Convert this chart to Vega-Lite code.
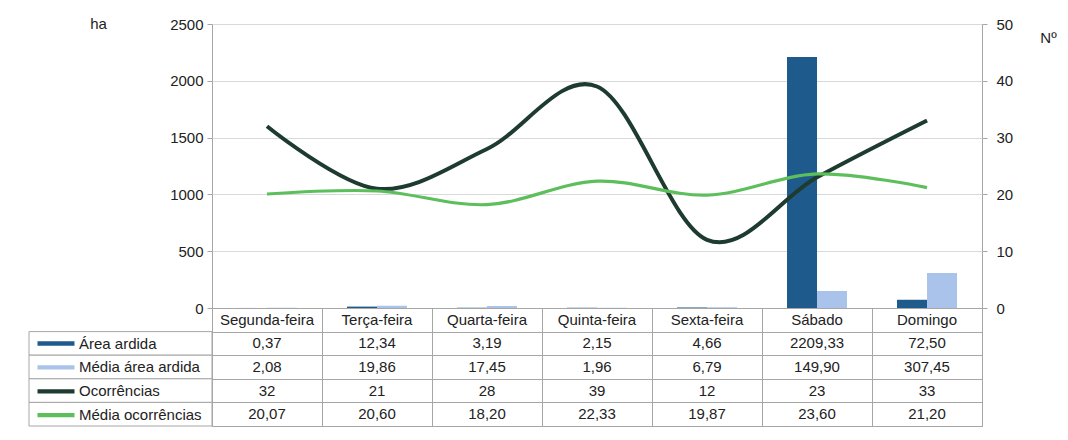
{
  "$schema": "https://vega.github.io/schema/vega-lite/v6.json",
  "autosize": {"type": "pad"},
  "padding": {"left": 28, "top": 15, "right": 5, "bottom": 5},
  "background": "white",
  "config": {
    "font": "Liberation Sans",
    "locale": {"number": {"decimal": ",", "thousands": "", "grouping": [3], "currency": ["", " €"]}},
    "view": {"stroke": "#a6a6a6", "strokeWidth": 1},
    "axis": {"labelFont": "Liberation Sans", "labelFontSize": 15, "labelColor": "#222222", "titleFont": "Liberation Sans", "titleFontSize": 15, "titleFontWeight": "normal", "titleColor": "#222222"}
  },
  "datasets": {
    "d": [
      {"dia": "Segunda-feira", "serie": "Área ardida", "valor": 0.37},
      {"dia": "Terça-feira", "serie": "Área ardida", "valor": 12.34},
      {"dia": "Quarta-feira", "serie": "Área ardida", "valor": 3.19},
      {"dia": "Quinta-feira", "serie": "Área ardida", "valor": 2.15},
      {"dia": "Sexta-feira", "serie": "Área ardida", "valor": 4.66},
      {"dia": "Sábado", "serie": "Área ardida", "valor": 2209.33},
      {"dia": "Domingo", "serie": "Área ardida", "valor": 72.50},
      {"dia": "Segunda-feira", "serie": "Média área ardida", "valor": 2.08},
      {"dia": "Terça-feira", "serie": "Média área ardida", "valor": 19.86},
      {"dia": "Quarta-feira", "serie": "Média área ardida", "valor": 17.45},
      {"dia": "Quinta-feira", "serie": "Média área ardida", "valor": 1.96},
      {"dia": "Sexta-feira", "serie": "Média área ardida", "valor": 6.79},
      {"dia": "Sábado", "serie": "Média área ardida", "valor": 149.90},
      {"dia": "Domingo", "serie": "Média área ardida", "valor": 307.45},
      {"dia": "Segunda-feira", "serie": "Ocorrências", "valor": 32},
      {"dia": "Terça-feira", "serie": "Ocorrências", "valor": 21},
      {"dia": "Quarta-feira", "serie": "Ocorrências", "valor": 28},
      {"dia": "Quinta-feira", "serie": "Ocorrências", "valor": 39},
      {"dia": "Sexta-feira", "serie": "Ocorrências", "valor": 12},
      {"dia": "Sábado", "serie": "Ocorrências", "valor": 23},
      {"dia": "Domingo", "serie": "Ocorrências", "valor": 33},
      {"dia": "Segunda-feira", "serie": "Média ocorrências", "valor": 20.07},
      {"dia": "Terça-feira", "serie": "Média ocorrências", "valor": 20.60},
      {"dia": "Quarta-feira", "serie": "Média ocorrências", "valor": 18.20},
      {"dia": "Quinta-feira", "serie": "Média ocorrências", "valor": 22.33},
      {"dia": "Sexta-feira", "serie": "Média ocorrências", "valor": 19.87},
      {"dia": "Sábado", "serie": "Média ocorrências", "valor": 23.60},
      {"dia": "Domingo", "serie": "Média ocorrências", "valor": 21.20}
    ]
  },
  "columns": 2,
  "spacing": 0,
  "bounds": "flush",
  "concat": [
    {
      "width": 183, "height": 284,
      "view": {"stroke": null},
      "data": {"values": []},
      "mark": "point"
    },
    {
      "width": 770, "height": 284,
      "data": {"name": "d"},
      "encoding": {
        "x": {
          "field": "dia", "type": "nominal",
          "sort": ["Segunda-feira", "Terça-feira", "Quarta-feira", "Quinta-feira", "Sexta-feira", "Sábado", "Domingo"],
          "axis": null,
          "scale": {"paddingInner": 0.4545, "paddingOuter": 0.227}
        }
      },
      "layer": [
        {
          "transform": [{"filter": {"field": "serie", "oneOf": ["Área ardida", "Média área ardida"]}}],
          "mark": {"type": "bar"},
          "encoding": {
            "xOffset": {"field": "serie", "type": "nominal", "sort": ["Área ardida", "Média área ardida"], "scale": {"paddingInner": 0}},
            "y": {
              "field": "valor", "type": "quantitative",
              "scale": {"domain": [0, 2500]},
              "axis": {
                "title": "ha", "values": [0, 500, 1000, 1500, 2000, 2500], "format": "d",
                "grid": true, "gridColor": "#d9d9d9", "domain": false,
                "tickSize": 5, "tickColor": "#a6a6a6", "labelPadding": 4,
                "titleAngle": 0, "titleX": -114, "titleY": -1, "titleAlign": "center", "titleBaseline": "middle"
              }
            },
            "color": {
              "field": "serie", "type": "nominal",
              "scale": {
                "domain": ["Área ardida", "Média área ardida", "Ocorrências", "Média ocorrências"],
                "range": ["#1f5a8c", "#aac3ea", "#1e3b30", "#5cbf5c"]
              },
              "legend": {
                "orient": "none", "legendX": 1, "legendY": 312, "title": null,
                "symbolType": "M0,-0.35H6V0.35H0Z", "symbolSize": 152, "symbolStrokeWidth": 0,
                "labelFont": "Liberation Sans", "labelFontSize": 15, "labelColor": "#222222",
                "labelOffset": 34, "rowPadding": 7.9, "padding": 0,
                "encode": {"symbols": {"update": {"fill": {"scale": "color", "field": "value"}, "stroke": {"value": "transparent"}}}}
              }
            }
          }
        },
        {
          "transform": [{"filter": {"field": "serie", "oneOf": ["Ocorrências", "Média ocorrências"]}}],
          "mark": {"type": "line", "interpolate": "cardinal"},
          "encoding": {
            "y": {
              "field": "valor", "type": "quantitative",
              "scale": {"domain": [0, 50]},
              "axis": {
                "orient": "right", "title": "Nº", "values": [0, 10, 20, 30, 40, 50], "format": "d",
                "grid": false, "domain": false, "tickSize": 5, "tickColor": "#a6a6a6", "labelPadding": 9,
                "titleAngle": 0, "titleX": 66, "titleY": 13, "titleAlign": "center", "titleBaseline": "middle"
              }
            },
            "color": {"field": "serie", "type": "nominal", "legend": null},
            "strokeWidth": {"field": "serie", "type": "nominal", "scale": {"domain": ["Ocorrências", "Média ocorrências"], "range": [4, 3.2]}, "legend": null},
            "order": {"value": null}
          }
        }
      ],
      "resolve": {"scale": {"y": "independent"}}
    },
    {
      "width": 183, "height": 118,
      "view": {"stroke": null},
      "data": {"name": "d"},
      "transform": [{"aggregate": [{"op": "count", "as": "n"}], "groupby": ["serie"]}],
      "mark": {"type": "rect", "fill": "white", "stroke": "#a6a6a6", "strokeWidth": 1},
      "encoding": {
        "y": {
          "field": "serie", "type": "nominal",
          "scale": {"domain": ["Dia", "Área ardida", "Média área ardida", "Ocorrências", "Média ocorrências"], "paddingInner": 0, "paddingOuter": 0},
          "axis": null
        }
      }
    },
    {
      "width": 770, "height": 118,
      "data": {"name": "d"},
      "encoding": {
        "x": {
          "field": "dia", "type": "nominal",
          "sort": ["Segunda-feira", "Terça-feira", "Quarta-feira", "Quinta-feira", "Sexta-feira", "Sábado", "Domingo"],
          "scale": {"paddingInner": 0, "paddingOuter": 0},
          "axis": {"grid": true, "tickBand": "extent", "gridColor": "#a6a6a6", "labels": false, "ticks": false, "domain": false, "title": null}
        }
      },
      "layer": [
        {
          "transform": [{"filter": {"field": "serie", "equal": "Área ardida"}}],
          "mark": {"type": "text", "fontSize": 15, "color": "#222222", "font": "Liberation Sans"},
          "encoding": {
            "y": {
              "datum": "Dia", "type": "nominal",
              "scale": {"domain": ["Dia", "Área ardida", "Média área ardida", "Ocorrências", "Média ocorrências"], "paddingInner": 0, "paddingOuter": 0},
              "axis": {"grid": true, "tickBand": "extent", "gridColor": "#a6a6a6", "labels": false, "ticks": false, "domain": false, "title": null}
            },
            "text": {"field": "dia", "type": "nominal"}
          }
        },
        {
          "transform": [{"filter": {"not": {"field": "serie", "equal": "Ocorrências"}}}],
          "mark": {"type": "text", "fontSize": 15, "color": "#222222", "font": "Liberation Sans"},
          "encoding": {
            "y": {"field": "serie", "type": "nominal"},
            "text": {"field": "valor", "type": "quantitative", "format": ".2f"}
          }
        },
        {
          "transform": [{"filter": {"field": "serie", "equal": "Ocorrências"}}],
          "mark": {"type": "text", "fontSize": 15, "color": "#222222", "font": "Liberation Sans"},
          "encoding": {
            "y": {"field": "serie", "type": "nominal"},
            "text": {"field": "valor", "type": "quantitative", "format": "d"}
          }
        }
      ]
    }
  ]
}
